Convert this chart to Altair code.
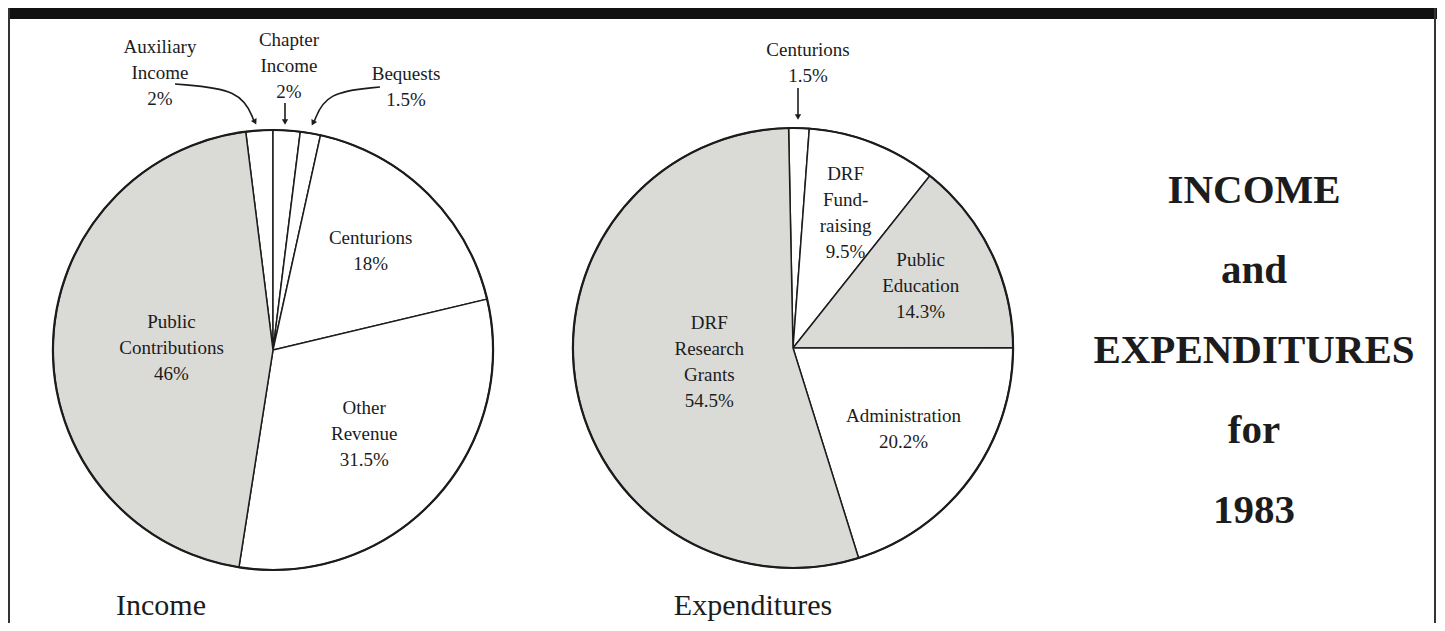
import math
import altair as alt
import pandas as pd

# ---------------- data ----------------
INC_NAMES = ["Auxiliary Income", "Chapter Income", "Bequests", "Centurions",
             "Other Revenue", "Public Contributions"]
INC_LABELS = ["Auxiliary\nIncome", "Chapter\nIncome", "Bequests", "Centurions",
              "Other\nRevenue", "Public\nContributions"]
INC_PCT = [2, 2, 1.5, 18, 31.5, 46]
INC_SHADED = ["Public Contributions"]
INC_OUTSIDE = ["Auxiliary Income", "Chapter Income", "Bequests"]

EXP_NAMES = ["Centurions", "DRF Fund-raising", "Public Education",
             "Administration", "DRF Research Grants"]
EXP_LABELS = ["Centurions", "DRF\nFund-\nraising", "Public\nEducation",
              "Administration", "DRF\nResearch\nGrants"]
EXP_PCT = [1.5, 9.5, 14.3, 20.2, 54.5]
EXP_SHADED = ["Public Education", "DRF Research Grants"]
EXP_OUTSIDE = ["Centurions"]

PIE_TITLES = ["Income", "Expenditures"]
TITLE_LINES = ["INCOME", "and", "EXPENDITURES", "for", "1983"]

# ---------------- layout / style ----------------
W, H = 1429, 615
R = 220
INK = "#1c1c1c"
GREY = "#dadad6"
FONT = "Liberation Serif"
LABEL_SIZE = 19
LINE_H = 26

INC_CENTER = (265, 342)
EXP_CENTER = (785, 340)
INC_START = -2 * math.pi * INC_PCT[0] / sum(INC_PCT)   # Chapter Income starts at 12 o'clock
EXP_START = -0.02

# block centres of the outside labels
INC_OUTER_POS = {"Auxiliary Income": (152, 65), "Chapter Income": (281, 58),
                 "Bequests": (398, 79)}
EXP_OUTER_POS = {"Centurions": (800, 55)}

# arrow paths (annotation geometry, chart pixels)
ARROW_PATHS = [
    ("aux", [(167, 76), (233, 81), (246, 113)]),
    ("chap", [(277, 95), (277, 113)]),
    ("beq", [(372, 79), (318, 84), (306, 114)]),
    ("cent", [(790, 80), (790, 108)]),
]
ARROW_HEADS = [(247, 114, 333), (277, 114, 0), (305, 115, 27), (790, 109, 0)]

NLINES = "(length(split(datum.txt, '\\n')) - 1)"


def pie_layers(names, labels, pct, shaded, outside, center, start, outer_pos):
    cx, cy = center
    df = pd.DataFrame({
        "name": names,
        "label": labels,
        "pct": pct,
        "order": list(range(len(names))),
        "shade": ["grey" if n in shaded else "white" for n in names],
        "outside": [n in outside for n in names],
    })
    base = (
        alt.Chart(df)
        .transform_joinaggregate(total="sum(pct)")
        .transform_window(cum="sum(pct)", sort=[alt.SortField("order", order="ascending")],
                          frame=[None, 0])
        .transform_calculate(
            a0=f"{start} + 2*PI*(datum.cum - datum.pct)/datum.total",
            a1=f"{start} + 2*PI*datum.cum/datum.total",
        )
        .transform_calculate(
            mid="(datum.a0 + datum.a1)/2",
            half="(datum.a1 - datum.a0)/2",
            txt="datum.label + '\\n' + datum.pct + '%'",
        )
        .transform_calculate(rc=f"2*{R}*sin(datum.half)/(3*datum.half)")
        .transform_calculate(
            lx=f"{cx} + datum.rc*sin(datum.mid)",
            ly=f"{cy} - datum.rc*cos(datum.mid) - {NLINES}*{LINE_H / 2}",
        )
    )
    arcs = base.mark_arc(radius=R, stroke=INK, strokeWidth=1.5).encode(
        x=alt.value(cx), y=alt.value(cy),
        theta=alt.Theta("a0:Q", scale=None), theta2="a1:Q",
        color=alt.Color("shade:N", scale=alt.Scale(domain=["grey", "white"],
                                                    range=[GREY, "#ffffff"]), legend=None),
    )
    ring = alt.Chart(pd.DataFrame({"k": [0]})).mark_arc(
        radius=R, theta=0, theta2=2 * math.pi, fillOpacity=0, stroke=INK, strokeWidth=2.2
    ).encode(x=alt.value(cx), y=alt.value(cy))
    inner = base.transform_filter("!datum.outside").mark_text(
        font=FONT, fontSize=LABEL_SIZE, lineHeight=LINE_H, lineBreak="\n",
        align="center", baseline="middle", color=INK
    ).encode(
        x=alt.X("lx:Q", scale=None, axis=None),
        y=alt.Y("ly:Q", scale=None, axis=None),
        text="txt:N",
    )
    layers = [arcs, ring, inner]
    for n, (px, py) in outer_pos.items():
        layers.append(
            base.transform_filter(alt.datum.name == n)
            .transform_calculate(oy=f"{py} - {NLINES}*{LINE_H / 2}")
            .mark_text(
                font=FONT, fontSize=LABEL_SIZE, lineHeight=LINE_H, lineBreak="\n",
                align="center", baseline="middle", color=INK
            ).encode(x=alt.value(px), y=alt.Y("oy:Q", scale=None, axis=None), text="txt:N")
        )
    return layers


one = pd.DataFrame({"k": [0]})
layers = []

# frame
layers.append(alt.Chart(one).mark_rect(color="#111111").encode(
    x=alt.value(0), x2=alt.value(W), y=alt.value(0), y2=alt.value(11)))
layers.append(alt.Chart(one).mark_rule(color="#333333", strokeWidth=2).encode(
    x=alt.value(1), y=alt.value(0), y2=alt.value(H)))
layers.append(alt.Chart(one).mark_rule(color="#333333", strokeWidth=2).encode(
    x=alt.value(W - 2), y=alt.value(0), y2=alt.value(H)))

layers += pie_layers(INC_NAMES, INC_LABELS, INC_PCT, INC_SHADED, INC_OUTSIDE,
                     INC_CENTER, INC_START, INC_OUTER_POS)
layers += pie_layers(EXP_NAMES, EXP_LABELS, EXP_PCT, EXP_SHADED, EXP_OUTSIDE,
                     EXP_CENTER, EXP_START, EXP_OUTER_POS)

# arrows
arrow_rows = []
for aid, pts in ARROW_PATHS:
    for i, (x, y) in enumerate(pts):
        arrow_rows.append({"arrow": aid, "i": i, "x": x, "y": y})
layers.append(alt.Chart(pd.DataFrame(arrow_rows)).mark_line(
    interpolate="basis", color=INK, strokeWidth=1.6).encode(
    x=alt.X("x:Q", scale=None, axis=None), y=alt.Y("y:Q", scale=None, axis=None),
    detail="arrow:N", order="i:Q"))
for hx, hy, ang in ARROW_HEADS:
    layers.append(alt.Chart(one).mark_point(
        shape="triangle-down", filled=True, size=40, color=INK, opacity=1, angle=ang
    ).encode(x=alt.value(hx), y=alt.value(hy)))

# pie titles
for t, tx in zip(PIE_TITLES, [153, 745]):
    layers.append(alt.Chart(pd.DataFrame({"t": [t]})).mark_text(
        font=FONT, fontSize=30, align="center", baseline="alphabetic", color=INK
    ).encode(x=alt.value(tx), y=alt.value(607), text="t:N"))

# big title
layers.append(alt.Chart(pd.DataFrame({"t": ["\n".join(TITLE_LINES)]})).mark_text(
    font=FONT, fontSize=41, fontWeight="bold", lineHeight=80, lineBreak="\n",
    align="center", baseline="alphabetic", color=INK
).encode(x=alt.value(1246), y=alt.value(195), text="t:N"))

chart = alt.layer(*layers).properties(
    width=W, height=H, padding=0,
    autosize=alt.AutoSizeParams(type="none"), background="white"
).configure_view(stroke=None)

chart.save("out.html", embed_options={"renderer": "svg", "actions": False})
